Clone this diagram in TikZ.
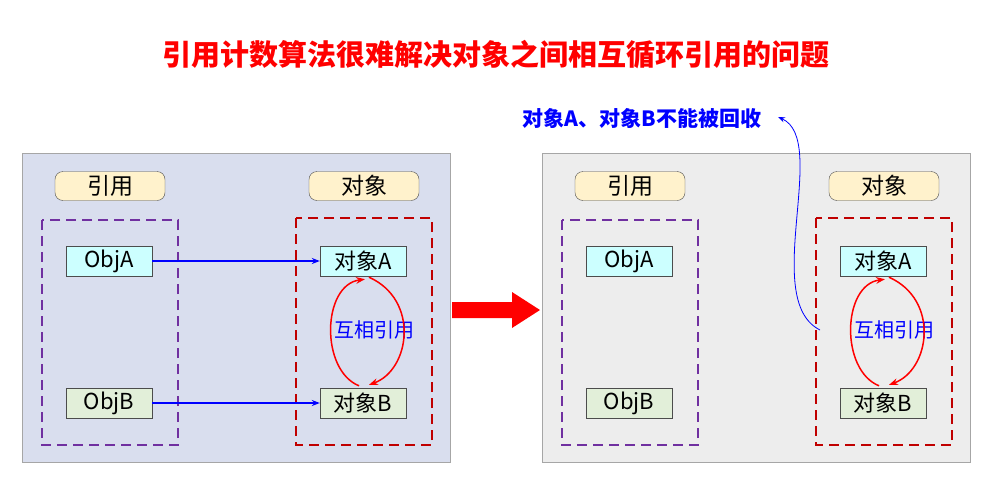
\documentclass[tikz,border=0pt]{standalone}
\usepackage{fontspec}
\setmainfont{Noto Sans CJK SC}
\usetikzlibrary{arrows.meta,calc}
\definecolor{pbg}{HTML}{D9DEEE}
\definecolor{pbg2}{HTML}{EDEDED}
\definecolor{lab}{HTML}{FFF2CC}
\definecolor{cy}{HTML}{CCFFFF}
\definecolor{gr}{HTML}{E2EFD9}
\definecolor{pur}{HTML}{7030A0}
\definecolor{dred}{HTML}{C00000}
\begin{document}
\begin{tikzpicture}[x=1pt,y=-1pt,
 panel/.style={draw=gray!70,line width=1pt},
 lbl/.style={draw=black!70,fill=lab,rounded corners=8pt,minimum width=110pt,minimum height=29pt,inner sep=0pt,font=\fontsize{23}{25}\selectfont},
 obj/.style={draw=black!70,minimum width=86pt,minimum height=30pt,inner sep=0pt,font=\fontsize{22}{24}\selectfont},
 pdash/.style={draw=pur,line width=2pt,dash pattern=on 10pt off 6pt},
 rdash/.style={draw=dred,line width=2pt,dash pattern=on 10pt off 6pt},
 barr/.style={blue,line width=1.2pt,-{Stealth[length=8pt]}},
 rarr/.style={red,line width=1.5pt,-{Stealth[length=9pt]}}]
\useasboundingbox (0,0) rectangle (981,482);
\fill[white] (0,0) rectangle (981,482);
\node (title) at (496,55) {\textcolor{red}{\fontsize{29}{31}\selectfont\bfseries 引用计数算法很难解决对象之间相互循环引用的问题}};
\foreach \dx/\bg/\n in {0/pbg/L,520/pbg2/R}{
 \begin{scope}[xshift=\dx]
 \draw[panel,fill=\bg] (22,153) rectangle (450,462);
 \node[lbl] (ref\n) at (110,186) {引用};
 \node[lbl] (obj\n) at (364,186) {对象};
 \draw[pdash] (42,220) rectangle (178,445);
 \draw[rdash] (296,218) rectangle (432,445);
 \node[obj,fill=cy] (oa\n) at (109,261) {ObjA};
 \node[obj,fill=gr] (ob\n) at (109,403) {ObjB};
 \node[obj,fill=cy] (da\n) at (363,261) {对象A};
 \node[obj,fill=gr] (db\n) at (363,403) {对象B};
 \node[text=blue,font=\fontsize{20}{22}\selectfont] (mut\n) at (374,330) {互相引用};
 \draw[rarr] ($(db\n.north)+(-4,-2)$) .. controls (320,370) and (322,285) .. ($(da\n.south)+(2,3)$);
 \draw[rarr] ($(da\n.south)+(6,1)$) .. controls (420,300) and (410,370) .. ($(db\n.north)+(6,-3)$);
 \end{scope}}
\draw[barr] (oaL) -- (daL);
\draw[barr] (obL) -- (dbL);
\fill[red] (452,302) -- (512,302) -- (512,292) -- (540,310) -- (512,328) -- (512,318) -- (452,318) -- cycle;
\node[text=blue,font=\fontsize{21}{23}\selectfont\bfseries] (note) at (642,119) {对象A、对象B不能被回收};
\coordinate (cs) at (820,330);
\draw[blue,line width=0.8pt,-{Stealth[length=7pt]}] (cs) .. controls (760,300) and (830,140) .. (778,117);
\end{tikzpicture}
\end{document}
